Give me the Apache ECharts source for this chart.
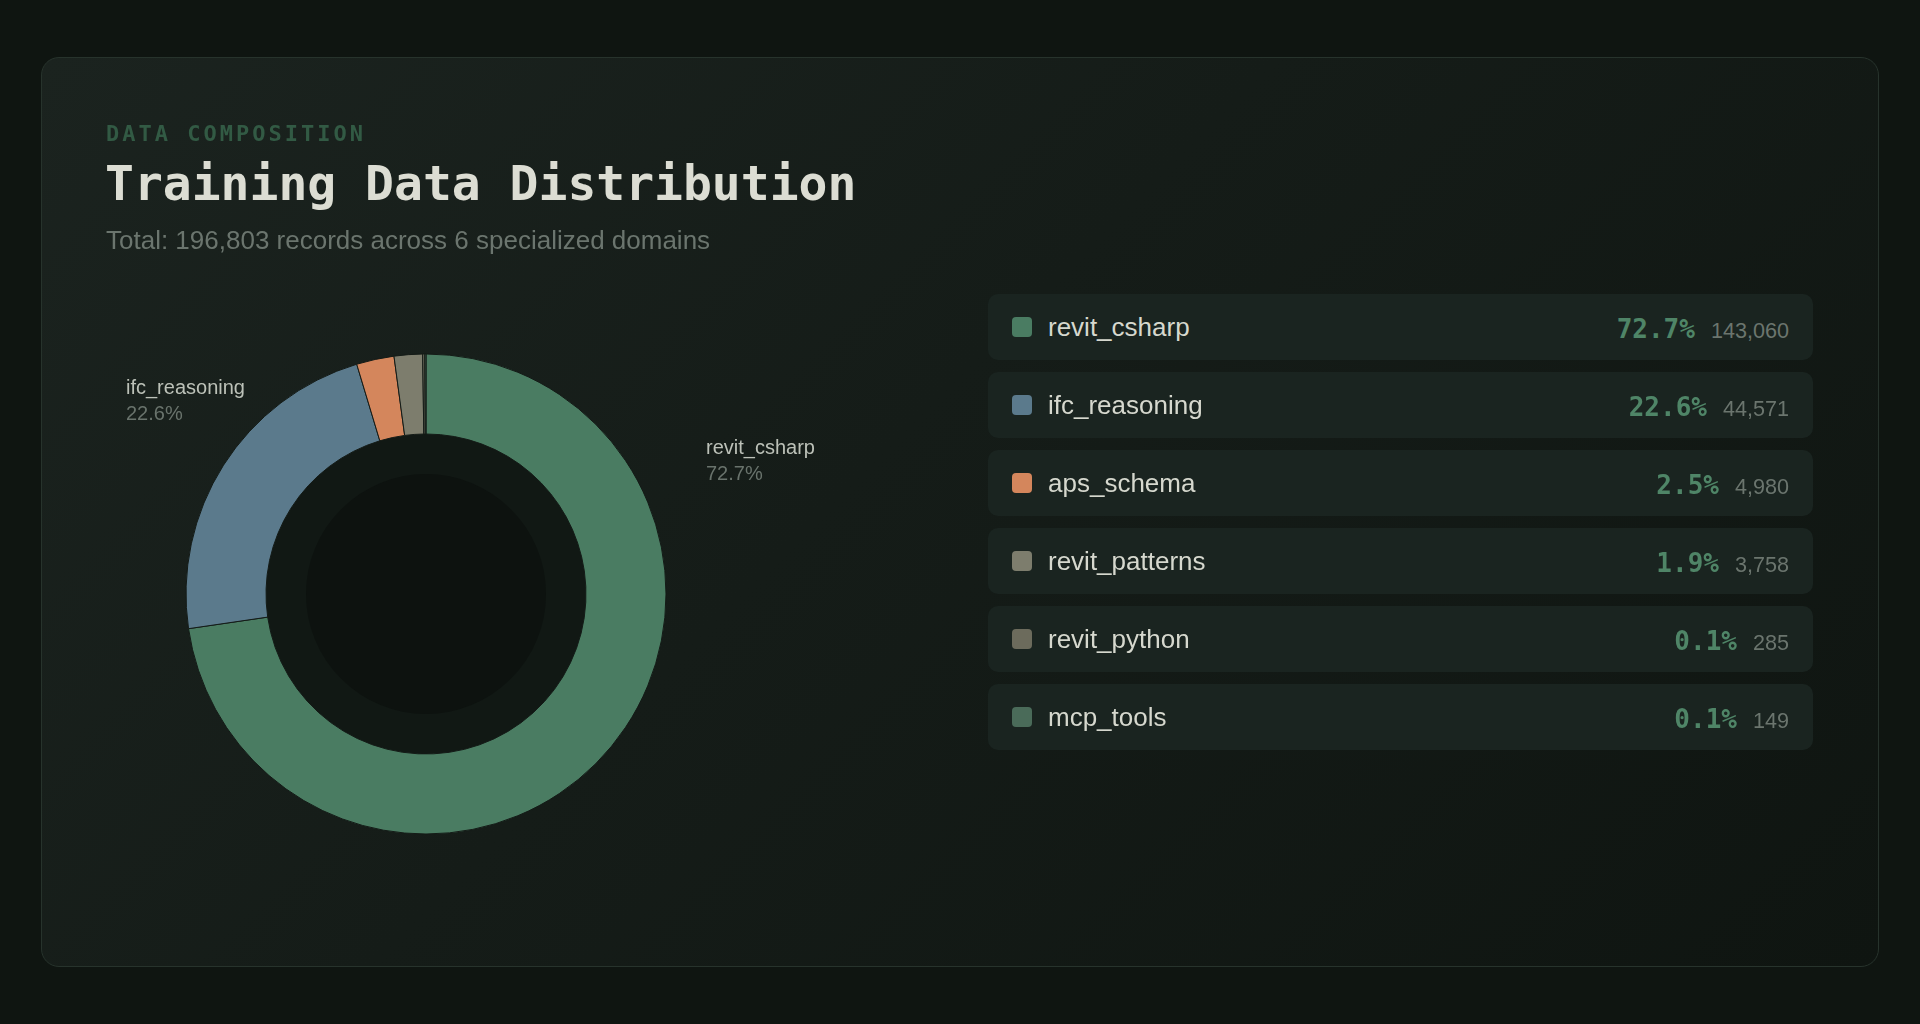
<!DOCTYPE html>
<html>
<head>
<meta charset="utf-8">
<script src="https://cdn.jsdelivr.net/npm/echarts@6/dist/echarts.min.js"></script>
<style>
  html, body { margin:0; padding:0; width:1920px; height:1024px; background:#0f1511; overflow:hidden; }
  #card { position:absolute; left:41px; top:57px; width:1836px; height:908px; border:1px solid #27332c; border-radius:18px;
          background:linear-gradient(135deg, #1b231f 0%, #151c18 45%, #0f1511 100%); }
  #chart { position:absolute; left:0; top:0; width:1920px; height:1024px; }
  .t { position:absolute; white-space:nowrap; line-height:1; }
  #eyebrow { left:106px; top:121px; font:bold 22px "DejaVu Sans Mono", monospace; letter-spacing:3px; color:#325a44; }
  #title { left:105px; top:155px; font:bold 48px "DejaVu Sans Mono", monospace; color:#dcddd3; }
  #subtitle { left:106px; top:225px; font:26px "Liberation Sans", Arial, sans-serif; color:#6b756e; }
  .row { position:absolute; left:988px; width:825px; height:66px; border-radius:10px; background:#1a2420; }
  .sw { position:absolute; left:24px; top:23px; width:20px; height:20px; border-radius:4px; }
  .nm { position:absolute; left:60px; top:20px; font:26px "Liberation Sans", Arial, sans-serif; line-height:1; color:#d6d8ce; }
  .rt { position:absolute; right:24px; top:20px; line-height:1; white-space:nowrap; }
  .pc { font:bold 26px "DejaVu Sans Mono", monospace; color:#4f8567; }
  .ct { font:21.6px "Liberation Sans", Arial, sans-serif; color:#6b756e; margin-left:16px; }
</style>
</head>
<body>
<div id="card"></div>
<div id="chart"></div>
<div class="t" id="eyebrow">DATA COMPOSITION</div>
<div class="t" id="title">Training Data Distribution</div>
<div class="t" id="subtitle"></div>
<div id="rows"></div>
<script>
const categories = ['revit_csharp', 'ifc_reasoning', 'aps_schema', 'revit_patterns', 'revit_python', 'mcp_tools'];
const recordCounts = [143060, 44571, 4980, 3758, 285, 149];
const percentLabels = ['72.7%', '22.6%', '2.5%', '1.9%', '0.1%', '0.1%'];
const sliceColors = ['#4a7c62', '#5b7a8c', '#d4865c', '#7d7d6d', '#6c6b5c', '#4a6b59'];

const total = recordCounts.reduce((a, b) => a + b, 0);
document.getElementById('subtitle').textContent =
  'Total: ' + total.toLocaleString('en-US') + ' records across ' + categories.length + ' specialized domains';

const rowsEl = document.getElementById('rows');
categories.forEach((name, i) => {
  const row = document.createElement('div');
  row.className = 'row';
  row.style.top = (294 + 78 * i) + 'px';
  row.innerHTML = '<div class="sw" style="background:' + sliceColors[i] + '"></div>' +
    '<div class="nm">' + name + '</div>' +
    '<div class="rt"><span class="pc">' + percentLabels[i] + '</span><span class="ct">' +
    recordCounts[i].toLocaleString('en-US') + '</span></div>';
  rowsEl.appendChild(row);
});

// label anchor placement (layout only)
const labelAnchor = { revit_csharp: [706, 435], ifc_reasoning: [126, 375] };

const chart = echarts.init(document.getElementById('chart'), null, { renderer: 'canvas' });
const cx = 426, cy = 594;
chart.setOption({
  backgroundColor: 'transparent',
  animation: false,
  graphic: [
    { type: 'circle', z: -2, shape: { cx: cx, cy: cy, r: 160 }, style: { fill: '#111814' }, silent: true },
    { type: 'circle', z: -1, shape: { cx: cx, cy: cy, r: 120 }, style: { fill: '#0d120f' }, silent: true }
  ],
  series: [{
    type: 'pie',
    center: [cx, cy],
    radius: [160, 240],
    startAngle: 90,
    clockwise: true,
    minShowLabelAngle: 10,
    itemStyle: { borderColor: '#141b17', borderWidth: 1 },
    label: {
      show: true,
      position: 'outside',
      formatter: p => '{n|' + p.name + '}\n{p|' + percentLabels[p.dataIndex] + '}',
      rich: {
        n: { fontFamily: 'Liberation Sans, Arial, sans-serif', fontSize: 20, color: '#bcc1b8', lineHeight: 26 },
        p: { fontFamily: 'Liberation Sans, Arial, sans-serif', fontSize: 20, color: '#69736c', lineHeight: 26 }
      }
    },
    labelLine: { show: false },
    labelLayout: function (params) {
      const name = categories[params.dataIndex];
      const a = labelAnchor[name];
      if (!a) return {};
      return { x: a[0], y: a[1], align: 'left', verticalAlign: 'top', hideOverlap: false };
    },
    emphasis: { disabled: true },
    data: categories.map((n, i) => ({ name: n, value: recordCounts[i], itemStyle: { color: sliceColors[i] } }))
  }]
});
</script>
</body>
</html>
